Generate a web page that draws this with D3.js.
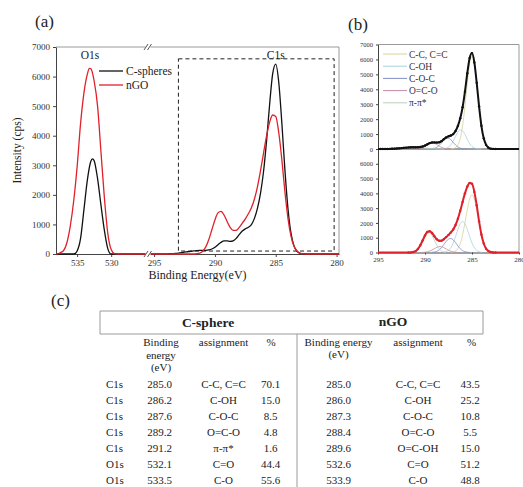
<!DOCTYPE html>
<html>
<head>
<meta charset="utf-8">
<script src="https://cdn.jsdelivr.net/npm/d3@7"></script>
<style>
  body { margin: 0; background: #fff; }
  svg { display: block; font-family: 'Liberation Serif', 'Times New Roman', 'DejaVu Serif', serif; }
</style>
</head>
<body>
<svg id="fig" width="523" height="487"></svg>
<script>
const intensityTicks = [0, 1000, 2000, 3000, 4000, 5000, 6000, 7000];
const lowerFitTicks = [0, 1000, 2000, 3000, 4000, 5000, 6000];
const o1sTicks = [535, 530];
const c1sTicks = [295, 290, 285, 280];

// survey curves, [binding energy (eV), intensity (cps)]
const o1sSphere = [[539,0],[535.5,0],[535.25,20],[535,100],[534.5,520],[534,1500],[533.5,2500],[533,3130],[532.75,3220],[532.5,3150],[532,2550],[531.5,1650],[531,800],[530.5,180],[530.25,40],[530,0],[524,0]];
const o1sNGO = [[539,0],[538,0],[537.5,40],[537,110],[536.5,380],[536,950],[535.5,1800],[535,2950],[534.5,4400],[534,5450],[533.5,6080],[533.2,6280],[533,6270],[532.5,5850],[532,5000],[531.5,3450],[531,1900],[530.5,700],[530,150],[529.5,10],[529,0],[524,0]];

const c1sSphere = [[279,0],[282.5,0],[282.75,6],[283,24],[283.25,89],[283.5,275],[283.75,713],[284,1556],[284.25,2870],[284.5,4442],[284.75,5801],[285,6424],[285.25,6099],[285.5,5074],[285.75,3843],[286,2797],[286.25,2056],[286.5,1549],[286.75,1205],[287,997],[287.25,903],[287.5,850],[287.75,775],[288,655],[288.25,527],[288.5,446],[288.75,428],[289,442],[289.25,441],[289.5,394],[289.75,314],[290,230],[290.25,170],[290.5,136],[290.75,124],[291,122],[291.25,121],[291.5,116],[291.75,106],[292,92],[292.25,76],[292.5,60],[292.75,44],[293,31],[293.25,21],[293.5,13],[293.75,8],[294,5],[294.25,3],[294.5,1],[294.75,0],[296,0]];
const c1sNGO = [[279,0],[282.5,0],[282.75,5],[283,30],[283.25,100],[283.5,260],[283.75,610],[284,1220],[284.25,2120],[284.5,3200],[284.75,4100],[285,4650],[285.25,4700],[285.5,4460],[285.75,4000],[286,3420],[286.25,2820],[286.5,2280],[286.75,1860],[287,1560],[287.25,1360],[287.5,1190],[287.75,1040],[288,900],[288.25,800],[288.5,800],[288.75,900],[289,1100],[289.25,1320],[289.5,1440],[289.75,1390],[290,1150],[290.25,820],[290.5,490],[290.75,240],[291,95],[291.25,30],[291.5,8],[291.75,0],[296,0]];

// fitted C1s components
const sphereCC = [[282.75,5],[283,24],[283.25,89],[283.5,275],[283.75,713],[284,1556],[284.25,2863],[284.5,4419],[284.75,5731],[285,6250],[285.25,5731],[285.5,4419],[285.75,2863],[286,1556],[286.25,713],[286.5,275],[286.75,89],[287,24],[287.25,5]];
const sphereCOH = [[284,2],[284.25,7],[284.5,23],[284.75,70],[285,174],[285.25,368],[285.5,653],[285.75,974],[286,1220],[286.25,1285],[286.5,1138],[286.75,848],[287,530],[287.25,279],[287.5,123],[287.75,46],[288,14],[288.25,4]];
const sphereCOC = [[285.5,2],[285.75,6],[286,21],[286.25,58],[286.5,136],[286.75,268],[287,443],[287.25,616],[287.5,720],[287.75,707],[288,585],[288.25,406],[288.5,237],[288.75,116],[289,48],[289.25,17],[289.5,5]];
const sphereOCO = [[287.25,2],[287.5,7],[287.75,22],[288,54],[288.25,114],[288.5,203],[288.75,302],[289,378],[289.25,399],[289.5,353],[289.75,263],[290,164],[290.25,87],[290.5,38],[290.75,14],[291,4]];
const spherePi = [[288,2],[288.5,6],[289,16],[289.5,36],[290,66],[290.5,98],[291,118],[291.25,120],[291.5,116],[292,92],[292.5,60],[293,31],[293.5,13],[294,5],[294.5,1]];

const ngoCC = [[282.75,10],[283,34],[283.25,104],[283.5,272],[283.75,612],[284,1193],[284.25,2005],[284.5,2902],[284.75,3623],[285,3900],[285.25,3623],[285.5,2902],[285.75,2005],[286,1193],[286.25,612],[286.5,272],[286.75,104],[287,34],[287.25,10]];
const ngoCOH = [[284,18],[284.25,56],[284.5,146],[284.75,330],[285,643],[285.25,1079],[285.5,1562],[285.75,1951],[286,2100],[286.25,1951],[286.5,1562],[286.75,1079],[287,643],[287.25,330],[287.5,146],[287.75,56],[288,18]];
const ngoCOC = [[285.25,6],[285.5,21],[285.75,55],[286,128],[286.25,257],[286.5,446],[286.75,664],[287,854],[287.25,947],[287.5,906],[287.75,748],[288,532],[288.25,327],[288.5,173],[288.75,79],[289,31],[289.25,11]];
const ngoOCO = [[286.5,6],[286.75,16],[287,39],[287.25,84],[287.5,153],[287.75,243],[288,331],[288.25,390],[288.5,395],[288.75,346],[289,261],[289.25,170],[289.5,96],[289.75,46],[290,19],[290.25,7]];
const ngoOCOH = [[287.75,12],[288,39],[288.25,108],[288.5,253],[288.75,499],[289,825],[289.25,1147],[289.5,1341],[289.75,1318],[290,1089],[290.25,756],[290.5,442],[290.75,217],[291,89],[291.25,31],[291.5,9]];

const fitNames = ['C-C, C=C', 'C-OH', 'C-O-C', 'O=C-O', 'π-π*'];
const sphereFits = [sphereCC, sphereCOH, sphereCOC, sphereOCO, spherePi];
const ngoFits = [ngoCC, ngoCOH, ngoCOC, ngoOCO, ngoOCOH];
const fitColors = ['#d8d19c', '#a9d3de', '#8190c4', '#c58ba7', '#b8ceb9'];

// c1s window marked in (a): energy range and intensity range
const c1sWindow = [293, 280.2, 100, 6600];

const tableTitles = ['C-sphere', 'nGO'];
const sphereRows = [
    ['C1s', '285.0', 'C-C, C=C', '70.1'],
    ['C1s', '286.2', 'C-OH', '15.0'],
    ['C1s', '287.6', 'C-O-C', '8.5'],
    ['C1s', '289.2', 'O=C-O', '4.8'],
    ['C1s', '291.2', 'π-π*', '1.6'],
    ['O1s', '532.1', 'C=O', '44.4'],
    ['O1s', '533.5', 'C-O', '55.6']
];
const ngoRows = [
    ['285.0', 'C-C, C=C', '43.5'],
    ['286.0', 'C-OH', '25.2'],
    ['287.3', 'C-O-C', '10.8'],
    ['288.4', 'O=C-O', '5.5'],
    ['289.6', 'O=C-OH', '15.0'],
    ['532.6', 'C=O', '51.2'],
    ['533.9', 'C-O', '48.8']
];

const serif = "'Liberation Serif', 'Times New Roman', 'DejaVu Serif', serif";
const svg = d3.select('#fig').attr('font-family', serif);
svg.append('rect').attr('width', 523).attr('height', 487).attr('fill', '#fff');
const defs = svg.append('defs');

const axisColor = '#444';
const frameColor = '#9a9a9a';
const byEnergy = arr => arr.slice().sort((a, b) => b[0] - a[0]);

const styleAxis = (g, size) => {
    g.attr('font-family', serif);
    g.selectAll('.domain').attr('stroke', axisColor);
    g.selectAll('.tick line').attr('stroke', axisColor);
    g.selectAll('.tick text')
        .attr('fill', '#333')
        .style('font-family', serif)
        .style('font-size', `${size}px`);
};

// ---------- (a) ----------
const a = { left: 56, right: 339, top: 47, bottom: 254, brk: 148 };
const xO = d3.scaleLinear().domain([538.1, 524.6]).range([a.left, a.brk]);
const xC = d3.scaleLinear().domain([295.5, 279.8]).range([a.brk, a.right]);
const yA = d3.scaleLinear().domain([0, 7000]).range([a.bottom, a.top]);

defs.append('clipPath').attr('id', 'clipO')
    .append('rect').attr('x', a.left).attr('y', a.top).attr('width', a.brk - a.left).attr('height', a.bottom - a.top + 2);
defs.append('clipPath').attr('id', 'clipC')
    .append('rect').attr('x', a.brk).attr('y', a.top).attr('width', a.right - a.brk).attr('height', a.bottom - a.top + 2);

const gA = svg.append('g');

gA.append('line')
    .attr('x1', a.left).attr('x2', a.right).attr('y1', a.top).attr('y2', a.top)
    .attr('stroke', frameColor);
gA.append('line')
    .attr('x1', a.right).attr('x2', a.right).attr('y1', a.top).attr('y2', a.bottom)
    .attr('stroke', frameColor);

gA.append('g')
    .attr('transform', `translate(${a.left},0)`)
    .call(d3.axisLeft(yA).tickValues(intensityTicks).tickSize(3).tickSizeOuter(0).tickFormat(d3.format('d')))
    .call(g => styleAxis(g, 9));
gA.append('g')
    .attr('transform', `translate(0,${a.bottom})`)
    .call(d3.axisBottom(xO).tickValues(o1sTicks).tickSize(3).tickSizeOuter(0))
    .call(g => styleAxis(g, 9));
gA.append('g')
    .attr('transform', `translate(0,${a.bottom})`)
    .call(d3.axisBottom(xC).tickValues(c1sTicks).tickSize(3).tickSizeOuter(0))
    .call(g => styleAxis(g, 9));

// dashed window round C1s
gA.append('rect')
    .attr('x', xC(c1sWindow[0]))
    .attr('y', yA(c1sWindow[3]))
    .attr('width', xC(c1sWindow[1]) - xC(c1sWindow[0]))
    .attr('height', yA(c1sWindow[2]) - yA(c1sWindow[3]))
    .attr('fill', 'none')
    .attr('stroke', '#222')
    .attr('stroke-width', 1)
    .attr('stroke-dasharray', '4,3');

const lineO = d3.line().x(d => xO(d[0])).y(d => yA(d[1])).curve(d3.curveMonotoneX);
const lineC = d3.line().x(d => xC(d[0])).y(d => yA(d[1])).curve(d3.curveMonotoneX);

[[o1sSphere, c1sSphere, '#111'], [o1sNGO, c1sNGO, '#e0202a']].forEach(([o, c, color]) => {
    gA.append('path')
        .attr('d', lineO(byEnergy(o)))
        .attr('clip-path', 'url(#clipO)')
        .attr('fill', 'none').attr('stroke', color).attr('stroke-width', 1.3);
    gA.append('path')
        .attr('d', lineC(byEnergy(c)))
        .attr('clip-path', 'url(#clipC)')
        .attr('fill', 'none').attr('stroke', color).attr('stroke-width', 1.3);
});

// axis break marks
[a.top, a.bottom].forEach(y => {
    gA.append('rect')
        .attr('x', a.brk - 2.5).attr('y', y - 2).attr('width', 5).attr('height', 4)
        .attr('fill', '#fff');
    [-2, 1.5].forEach(dx => {
        gA.append('line')
            .attr('x1', a.brk + dx - 2).attr('y1', y + 3)
            .attr('x2', a.brk + dx + 2).attr('y2', y - 3)
            .attr('stroke', axisColor).attr('stroke-width', 0.9);
    });
});

gA.append('text').attr('x', xO(533.1)).attr('y', 58.5)
    .attr('text-anchor', 'middle').attr('font-size', 11.5).attr('fill', '#222').text('O1s');
gA.append('text').attr('x', xC(285)).attr('y', 58.5)
    .attr('text-anchor', 'middle').attr('font-size', 11.5).attr('fill', '#222').text('C1s');

const legendA = [['C-spheres', '#111'], ['nGO', '#e0202a']];
legendA.forEach(([name, color], i) => {
    const y = 71 + i * 14;
    gA.append('line').attr('x1', 99).attr('x2', 123).attr('y1', y).attr('y2', y)
        .attr('stroke', color).attr('stroke-width', 1.3);
    gA.append('text').attr('x', 126).attr('y', y + 4)
        .attr('font-size', 11.5).attr('fill', '#222').text(name);
});

gA.append('text')
    .attr('transform', `translate(21,${(a.top + a.bottom) / 2}) rotate(-90)`)
    .attr('text-anchor', 'middle').attr('font-size', 11.5).attr('fill', '#222')
    .text('Intensity (cps)');
gA.append('text')
    .attr('x', (a.left + a.right) / 2).attr('y', 279)
    .attr('text-anchor', 'middle').attr('font-size', 12).attr('fill', '#222')
    .text('Binding Energy(eV)');

svg.append('text').attr('x', 35).attr('y', 27).attr('font-size', 17).attr('fill', '#222').text('(a)');
svg.append('text').attr('x', 348).attr('y', 30).attr('font-size', 17).attr('fill', '#222').text('(b)');
svg.append('text').attr('x', 51).attr('y', 306).attr('font-size', 17).attr('fill', '#222').text('(c)');

// ---------- (b) ----------
const b = { left: 378, right: 519, top: 44.5, mid: 149, bottom: 252.5 };
const xB = d3.scaleLinear().domain([295, 280]).range([b.left, b.right]);
const yTop = d3.scaleLinear().domain([0, 7000]).range([b.mid, b.top]);
const yLow = d3.scaleLinear().domain([0, 7000]).range([b.bottom, b.mid]);

defs.append('clipPath').attr('id', 'clipBt')
    .append('rect').attr('x', b.left).attr('y', b.top).attr('width', b.right - b.left).attr('height', b.mid - b.top + 1.5);
defs.append('clipPath').attr('id', 'clipBb')
    .append('rect').attr('x', b.left).attr('y', b.mid).attr('width', b.right - b.left).attr('height', b.bottom - b.mid + 1.5);

const gB = svg.append('g');
gB.append('line')
    .attr('x1', b.left).attr('x2', b.right).attr('y1', b.top).attr('y2', b.top)
    .attr('stroke', frameColor);
gB.append('line')
    .attr('x1', b.right).attr('x2', b.right).attr('y1', b.top).attr('y2', b.bottom)
    .attr('stroke', frameColor);

gB.append('g')
    .attr('transform', `translate(${b.left},0)`)
    .call(d3.axisLeft(yTop).tickValues(intensityTicks).tickSize(2).tickSizeOuter(0).tickFormat(d3.format('d')))
    .call(g => styleAxis(g, 6.5));
gB.append('g')
    .attr('transform', `translate(${b.left},0)`)
    .call(d3.axisLeft(yLow).tickValues(lowerFitTicks).tickSize(2).tickSizeOuter(0).tickFormat(d3.format('d')))
    .call(g => styleAxis(g, 6.5));
gB.append('line')
    .attr('x1', b.left).attr('x2', b.right).attr('y1', b.mid).attr('y2', b.mid)
    .attr('stroke', axisColor);
gB.append('g')
    .attr('transform', `translate(0,${b.bottom})`)
    .call(d3.axisBottom(xB).tickValues(c1sTicks).tickSize(2).tickSizeOuter(0))
    .call(g => styleAxis(g, 7));

const drawFit = (yScale, clip, fits, envelope, color) => {
    const line = d3.line().x(d => xB(d[0])).y(d => yScale(d[1])).curve(d3.curveMonotoneX);
    const g = gB.append('g').attr('clip-path', `url(#${clip})`);
    fits.forEach((f, i) => {
        g.append('path')
            .attr('d', line(byEnergy(f)))
            .attr('fill', 'none').attr('stroke', fitColors[i]).attr('stroke-width', 0.8);
    });
    g.append('path')
        .attr('d', line(byEnergy(envelope)))
        .attr('fill', 'none').attr('stroke', color).attr('stroke-width', 2);
    g.selectAll('.dot')
        .data(envelope.filter(d => d[0] >= 280 && d[0] <= 295))
        .join('circle')
            .attr('cx', d => xB(d[0]))
            .attr('cy', d => yScale(d[1]))
            .attr('r', 1.2)
            .attr('fill', color);
};
drawFit(yTop, 'clipBt', sphereFits, c1sSphere, '#111');
drawFit(yLow, 'clipBb', ngoFits, c1sNGO, '#e0202a');

fitNames.forEach((name, i) => {
    const y = 54 + i * 12.2;
    gB.append('line').attr('x1', 383).attr('x2', 407).attr('y1', y).attr('y2', y)
        .attr('stroke', fitColors[i]).attr('stroke-width', 1);
    gB.append('text').attr('x', 409).attr('y', y + 3.5)
        .attr('font-size', 9.5).attr('fill', '#333').text(name);
});

// ---------- (c) ----------
const t = { left: 100, right: 483, top: 311, head: 334, split: 297, end: 487 };
const gT = svg.append('g').attr('fill', '#222');
const grid = [
    [t.left, t.top, t.right, t.top],
    [t.left, t.head, t.right, t.head],
    [t.left, t.top, t.left, t.head],
    [t.right, t.top, t.right, t.head],
    [t.split, t.head, t.split, t.end]
];
gT.selectAll('line')
    .data(grid)
    .join('line')
        .attr('x1', d => d[0]).attr('y1', d => d[1])
        .attr('x2', d => d[2]).attr('y2', d => d[3])
        .attr('stroke', frameColor).attr('stroke-width', 1);

gT.append('text').attr('x', 208).attr('y', 326.5).attr('text-anchor', 'middle')
    .attr('font-size', 13.5).attr('font-weight', 'bold').text(tableTitles[0]);
gT.append('text').attr('x', 393).attr('y', 326).attr('text-anchor', 'middle')
    .attr('font-size', 13.5).attr('font-weight', 'bold').text(tableTitles[1]);

const subHead = [
    ['Binding', 161, 346], ['energy', 161, 358.5], ['(eV)', 161, 371],
    ['assignment', 223.5, 346], ['%', 271, 346],
    ['Binding energy', 338.5, 345.5], ['(eV)', 338.5, 357.5],
    ['assignment', 418, 346], ['%', 471.5, 346]
];
subHead.forEach(([txt, x, y]) => {
    gT.append('text').attr('x', x).attr('y', y).attr('text-anchor', 'middle')
        .attr('font-size', 11).text(txt);
});

const rowY = d3.scaleLinear().domain([0, 1]).range([388, 404.05]);
const sphereCols = [[106, 'start'], [159.5, 'middle'], [223.5, 'middle'], [270.5, 'middle']];
const ngoCols = [[338.5, 'middle'], [418, 'middle'], [470, 'middle']];
sphereRows.forEach((row, i) => {
    row.forEach((cell, j) => {
        gT.append('text').attr('x', sphereCols[j][0]).attr('y', rowY(i))
            .attr('text-anchor', sphereCols[j][1]).attr('font-size', 11).text(cell);
    });
});
ngoRows.forEach((row, i) => {
    row.forEach((cell, j) => {
        gT.append('text').attr('x', ngoCols[j][0]).attr('y', rowY(i))
            .attr('text-anchor', ngoCols[j][1]).attr('font-size', 11).text(cell);
    });
});
</script>
</body>
</html>
